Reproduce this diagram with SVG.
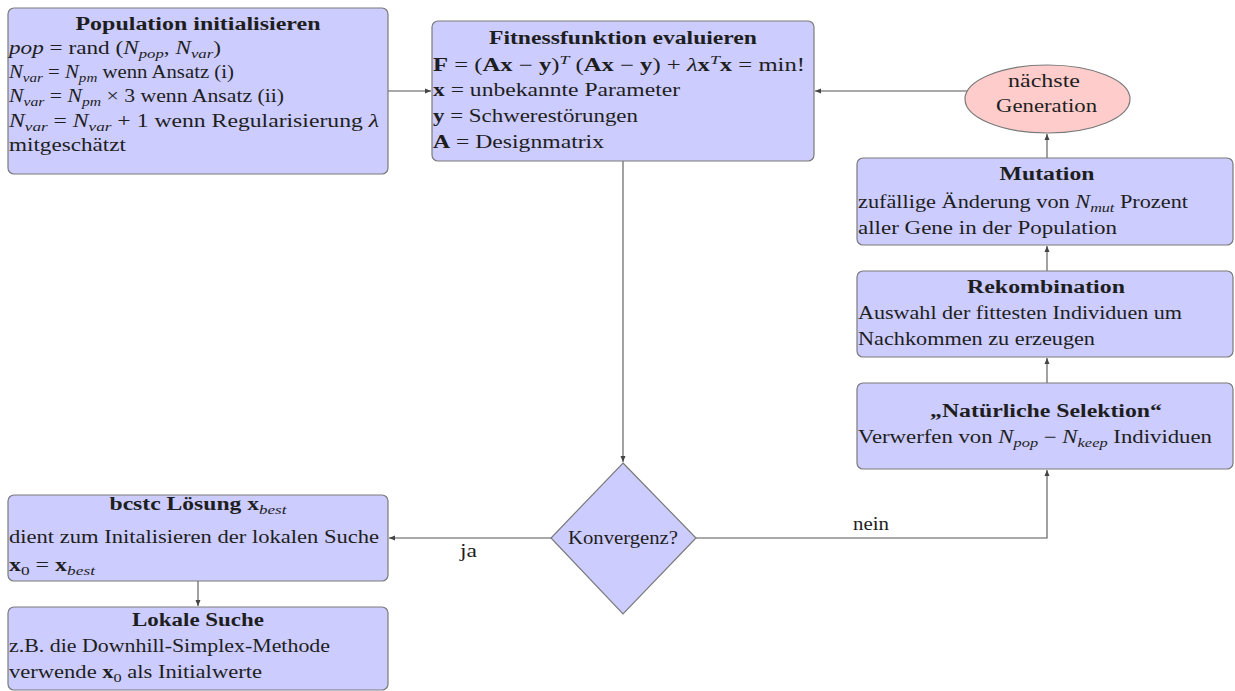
<svg xmlns="http://www.w3.org/2000/svg" width="1235" height="691" viewBox="0 0 1235 691">
<style>
.box{fill:#ccccff;stroke:#7a7a7a;stroke-width:1.2}
.ell{fill:#ffcccc;stroke:#7a7a7a;stroke-width:1.2}
.t{font-family:"Liberation Serif","DejaVu Serif",serif;font-size:18px;font-weight:normal;fill:#1e1e1e}
.h{font-weight:bold}
.i{font-style:italic}
.bf{font-weight:bold}
.s{font-size:13px;font-style:italic;font-weight:normal}
.s0{font-size:13px;font-weight:normal}
.c{text-anchor:middle}
.con{fill:none;stroke:#555;stroke-width:1.1}
</style>
<defs>
<marker id="arr" markerWidth="7" markerHeight="6" refX="6" refY="3" orient="auto" markerUnits="userSpaceOnUse"><path d="M0,0.5 L6,3 L0,5.5 z" fill="#444"/></marker>
</defs>
<rect width="1235" height="691" fill="#ffffff"/>

<g id="connectors">
<path class="con" d="M388,91 H431" marker-end="url(#arr)"/>
<path class="con" d="M968,91 H815" marker-end="url(#arr)"/>
<path class="con" d="M623,161 V462" marker-end="url(#arr)"/>
<path class="con" d="M551,538 H389" marker-end="url(#arr)"/>
<path class="con" d="M198,581 V606" marker-end="url(#arr)"/>
<path class="con" d="M696,538 H1047 V470" marker-end="url(#arr)"/>
<path class="con" d="M1047,383 V358" marker-end="url(#arr)"/>
<path class="con" d="M1047,271 V246" marker-end="url(#arr)"/>
<path class="con" d="M1047,158 V134" marker-end="url(#arr)"/>
<text class="t" x="853" y="530" textLength="36" lengthAdjust="spacingAndGlyphs">nein</text>
<text class="t" x="460" y="557" textLength="17" lengthAdjust="spacingAndGlyphs">ja</text>
</g>

<g id="init">
<rect class="box" x="8" y="8" width="380" height="166" rx="6"/>
<text class="t h c" x="198" y="30" textLength="245" lengthAdjust="spacingAndGlyphs">Population initialisieren</text>
<text class="t" x="9" y="54" textLength="212" lengthAdjust="spacingAndGlyphs"><tspan class="i">pop</tspan> = rand (<tspan class="i">N</tspan><tspan class="s" dy="4">pop</tspan><tspan dy="-4">, </tspan><tspan class="i">N</tspan><tspan class="s" dy="4">var</tspan><tspan dy="-4">)</tspan></text>
<text class="t" x="9" y="78" textLength="225" lengthAdjust="spacingAndGlyphs"><tspan class="i">N</tspan><tspan class="s" dy="4">var</tspan><tspan dy="-4"> = </tspan><tspan class="i">N</tspan><tspan class="s" dy="4">pm</tspan><tspan dy="-4"> wenn Ansatz (i)</tspan></text>
<text class="t" x="9" y="102" textLength="275" lengthAdjust="spacingAndGlyphs"><tspan class="i">N</tspan><tspan class="s" dy="4">var</tspan><tspan dy="-4"> = </tspan><tspan class="i">N</tspan><tspan class="s" dy="4">pm</tspan><tspan dy="-4"> × 3 wenn Ansatz (ii)</tspan></text>
<text class="t" x="9" y="127" textLength="370" lengthAdjust="spacingAndGlyphs"><tspan class="i">N</tspan><tspan class="s" dy="4">var</tspan><tspan dy="-4"> = </tspan><tspan class="i">N</tspan><tspan class="s" dy="4">var</tspan><tspan dy="-4"> + 1 wenn Regularisierung </tspan><tspan class="i">λ</tspan></text>
<text class="t" x="9" y="151" textLength="117" lengthAdjust="spacingAndGlyphs">mitgeschätzt</text>
</g>

<g id="fitness">
<rect class="box" x="432" y="21" width="382" height="140" rx="6"/>
<text class="t h c" x="623" y="44" textLength="268" lengthAdjust="spacingAndGlyphs">Fitnessfunktion evaluieren</text>
<text class="t" x="433" y="71" textLength="372" lengthAdjust="spacingAndGlyphs"><tspan class="bf">F</tspan> = (<tspan class="bf">Ax</tspan> − <tspan class="bf">y</tspan>)<tspan class="s" dy="-7">T</tspan><tspan dy="7"> (</tspan><tspan class="bf">Ax</tspan> − <tspan class="bf">y</tspan>) + <tspan class="i">λ</tspan><tspan class="bf">x</tspan><tspan class="s" dy="-7">T</tspan><tspan class="bf" dy="7">x</tspan> = min!</text>
<text class="t" x="433" y="96" textLength="247" lengthAdjust="spacingAndGlyphs"><tspan class="bf">x</tspan> = unbekannte Parameter</text>
<text class="t" x="433" y="122" textLength="205" lengthAdjust="spacingAndGlyphs"><tspan class="bf">y</tspan> = Schwerestörungen</text>
<text class="t" x="433" y="148" textLength="171" lengthAdjust="spacingAndGlyphs"><tspan class="bf">A</tspan> = Designmatrix</text>
</g>

<g id="naechste">
<ellipse class="ell" cx="1047.5" cy="99" rx="82.5" ry="34"/>
<text class="t c" x="1044" y="87" textLength="72" lengthAdjust="spacingAndGlyphs">nächste</text>
<text class="t c" x="1046.5" y="112" textLength="101" lengthAdjust="spacingAndGlyphs">Generation</text>
</g>

<g id="mutation">
<rect class="box" x="857" y="158" width="376" height="87" rx="6"/>
<text class="t h c" x="1047" y="180" textLength="95" lengthAdjust="spacingAndGlyphs">Mutation</text>
<text class="t" x="858" y="208" textLength="330" lengthAdjust="spacingAndGlyphs">zufällige Änderung von <tspan class="i">N</tspan><tspan class="s" dy="4">mut</tspan><tspan dy="-4"> Prozent</tspan></text>
<text class="t" x="858" y="234" textLength="259" lengthAdjust="spacingAndGlyphs">aller Gene in der Population</text>
</g>

<g id="rekombination">
<rect class="box" x="857" y="271" width="376" height="86" rx="6"/>
<text class="t h c" x="1046" y="293" textLength="158" lengthAdjust="spacingAndGlyphs">Rekombination</text>
<text class="t" x="858" y="319" textLength="324" lengthAdjust="spacingAndGlyphs">Auswahl der fittesten Individuen um</text>
<text class="t" x="858" y="345" textLength="237" lengthAdjust="spacingAndGlyphs">Nachkommen zu erzeugen</text>
</g>

<g id="selektion">
<rect class="box" x="857" y="383" width="376" height="86" rx="6"/>
<text class="t h c" x="1046" y="417" textLength="232" lengthAdjust="spacingAndGlyphs">„Natürliche Selektion“</text>
<text class="t" x="858" y="443" textLength="354" lengthAdjust="spacingAndGlyphs">Verwerfen von <tspan class="i">N</tspan><tspan class="s" dy="4">pop</tspan><tspan dy="-4"> − </tspan><tspan class="i">N</tspan><tspan class="s" dy="4">keep</tspan><tspan dy="-4"> Individuen</tspan></text>
</g>

<g id="konvergenz">
<polygon class="box" points="623,463 696,538 623,614 551,538"/>
<text class="t c" x="623" y="544" textLength="110" lengthAdjust="spacingAndGlyphs">Konvergenz?</text>
</g>

<g id="beste">
<rect class="box" x="8" y="495" width="380" height="86" rx="6"/>
<text class="t h c" x="198" y="510" textLength="177" lengthAdjust="spacingAndGlyphs">bcstc Lösung x<tspan class="s" dy="4">best</tspan></text>
<text class="t" x="9" y="543" textLength="370" lengthAdjust="spacingAndGlyphs">dient zum Initalisieren der lokalen Suche</text>
<text class="t" x="9" y="571" textLength="86" lengthAdjust="spacingAndGlyphs"><tspan class="bf">x</tspan><tspan class="s0" dy="4">0</tspan><tspan dy="-4"> = </tspan><tspan class="bf">x</tspan><tspan class="s" dy="4">best</tspan></text>
</g>

<g id="lokal">
<rect class="box" x="8" y="607" width="380" height="83" rx="6"/>
<text class="t h c" x="198" y="626" textLength="132" lengthAdjust="spacingAndGlyphs">Lokale Suche</text>
<text class="t" x="9" y="652" textLength="321" lengthAdjust="spacingAndGlyphs">z.B. die Downhill-Simplex-Methode</text>
<text class="t" x="9" y="678" textLength="253" lengthAdjust="spacingAndGlyphs">verwende <tspan class="bf">x</tspan><tspan class="s0" dy="4">0</tspan><tspan dy="-4"> als Initialwerte</tspan></text>
</g>
</svg>
